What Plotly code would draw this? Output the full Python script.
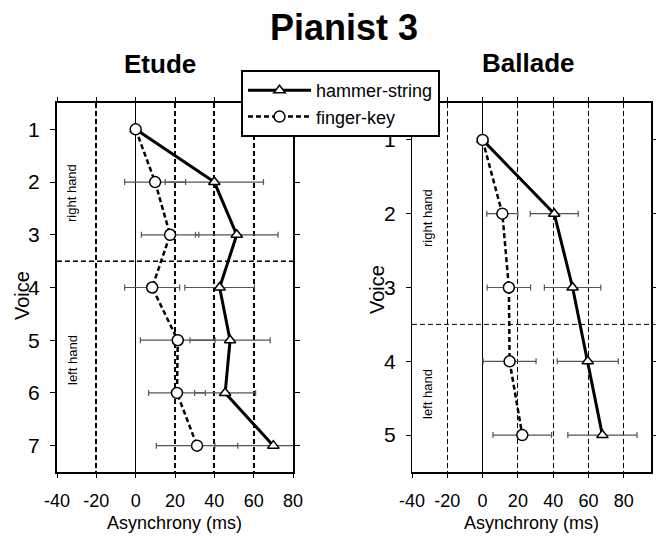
import plotly.graph_objects as go

# ---------------- data ----------------
etude_voices = [1, 2, 3, 4, 5, 6, 7]
etude_hammer = [0, 40, 51.4, 42.7, 48, 45.5, 70]
etude_hammer_err = [0, 25, 21, 17.7, 20.4, 15.5, 29.7]
etude_finger = [0, 9.9, 17.5, 8.4, 21.4, 21, 31.2]
etude_finger_err = [0, 15.5, 14.6, 14, 19, 14.4, 20.7]

ballade_voices = [1, 2, 3, 4, 5]
ballade_hammer = [0, 40.6, 51, 59.6, 67.9]
ballade_hammer_err = [0, 13.6, 16, 17.3, 19.6]
ballade_finger = [0, 11.2, 14.9, 15.3, 22.5]
ballade_finger_err = [0, 8.8, 12.3, 15, 16.6]

etude_hand_split = 3.5
ballade_hand_split = 3.5
x_ticks = [-40, -20, 0, 20, 40, 60, 80]

W, H = 656, 536
FONT = "Liberation Sans, Arial, Helvetica, sans-serif"


def px(x):
    return x / W


def py(y):
    return 1 - y / H


fig = go.Figure()


def add_series(xaxis, yaxis, voices, hammer, h_err, finger, f_err, showlegend):
    fig.add_trace(go.Scatter(
        x=hammer, y=voices, xaxis=xaxis, yaxis=yaxis,
        name="hammer-string", mode="lines+markers", showlegend=showlegend,
        line=dict(color="black", width=3),
        marker=dict(symbol="triangle-up", size=10, color="white",
                    line=dict(color="black", width=1.5)),
        error_x=dict(type="data", array=h_err, visible=True,
                     color="#555555", thickness=1.2, width=3),
    ))
    fig.add_trace(go.Scatter(
        x=finger, y=voices, xaxis=xaxis, yaxis=yaxis,
        name="finger-key", mode="lines+markers", showlegend=showlegend,
        line=dict(color="black", width=2.5, dash="5px,3px"),
        marker=dict(symbol="circle", size=11, color="white",
                    line=dict(color="black", width=1.5)),
        error_x=dict(type="data", array=f_err, visible=True,
                     color="#555555", thickness=1.2, width=3),
    ))


add_series("x", "y", etude_voices, etude_hammer, etude_hammer_err,
           etude_finger, etude_finger_err, True)
add_series("x2", "y2", ballade_voices, ballade_hammer, ballade_hammer_err,
           ballade_finger, ballade_finger_err, False)

xcommon = dict(
    automargin=False,
    tickmode="array", tickvals=x_ticks, ticktext=[str(v) for v in x_ticks],
    ticks="outside", ticklen=4, tickwidth=1.2, tickcolor="black",
    showline=True, linecolor="black", linewidth=2, mirror="ticks",
    showgrid=True, gridcolor="black", griddash="5px,3px",
    zeroline=True, zerolinecolor="black", zerolinewidth=1.2,
    tickfont=dict(family=FONT, size=18, color="black"),
    ticklabelstandoff=7,
)
ycommon = dict(
    automargin=False,
    autorange=False, ticks="outside", ticklen=5, tickwidth=1.2, tickcolor="black",
    showline=True, linecolor="black", mirror="ticks", showgrid=False,
    zeroline=False, tickfont=dict(family=FONT, size=21, color="black"),
    ticklabelstandoff=6, dtick=1,
)

fig.update_layout(
    width=W, height=H, margin=dict(l=0, r=0, t=0, b=0, autoexpand=False),
    paper_bgcolor="white", plot_bgcolor="white",
    xaxis=dict(domain=[px(57), px(293)], range=[-40, 80], anchor="y",
               gridwidth=1.5, **xcommon),
    yaxis=dict(domain=[py(472), py(103)], range=[7.5, 0.5], anchor="x",
               linewidth=2, tickvals=etude_voices, **ycommon),
    xaxis2=dict(domain=[px(412), px(652)], range=[-40, 96], anchor="y2",
                gridwidth=1, **xcommon),
    yaxis2=dict(domain=[py(472), py(103)], range=[5.5, 0.5], anchor="x2",
                linewidth=1, tickvals=ballade_voices, **ycommon),
    showlegend=True,
    legend=dict(x=px(241), y=py(70), xanchor="left", yanchor="top",
                bgcolor="white", bordercolor="black", borderwidth=2,
                font=dict(family=FONT, size=18, color="black"),
                itemwidth=63, tracegroupgap=0),
)

# horizontal dashed separators between hands
fig.add_shape(type="line", xref="x domain", yref="y", x0=0, x1=1,
              y0=etude_hand_split, y1=etude_hand_split,
              line=dict(color="black", width=1.5, dash="5px,3px"))
fig.add_shape(type="line", xref="x2 domain", yref="y2", x0=0, x1=1.015,
              y0=ballade_hand_split, y1=ballade_hand_split,
              line=dict(color="black", width=1, dash="5px,3px"))
# heavier right frame edge of the Ballade panel
fig.add_shape(type="line", xref="x2 domain", yref="y2 domain", x0=1, x1=1,
              y0=0, y1=1, line=dict(color="black", width=2))

ann = []


def text(x, y, s, size, bold=False, angle=0):
    ann.append(dict(x=px(x), y=py(y), xref="paper", yref="paper", text=s,
                    showarrow=False, textangle=angle,
                    xanchor="center", yanchor="middle",
                    font=dict(family=FONT, size=size, color="black",
                              weight="bold" if bold else "normal")))


text(344, 27, "Pianist 3", 36, bold=True)
text(160, 64, "Etude", 26, bold=True)
text(528, 63, "Ballade", 26, bold=True)
text(22, 296, "Voice", 20, angle=-90)
text(377, 290, "Voice", 20, angle=-90)
text(174, 523, "Asynchrony (ms)", 18)
text(531, 523, "Asynchrony (ms)", 18)
text(72, 193, "right hand", 13, angle=-90)
text(72, 360, "left hand", 13, angle=-90)
text(427, 218, "right hand", 13, angle=-90)
text(427, 394, "left hand", 13, angle=-90)
fig.update_layout(annotations=ann)

fig.write_html("out.html")
